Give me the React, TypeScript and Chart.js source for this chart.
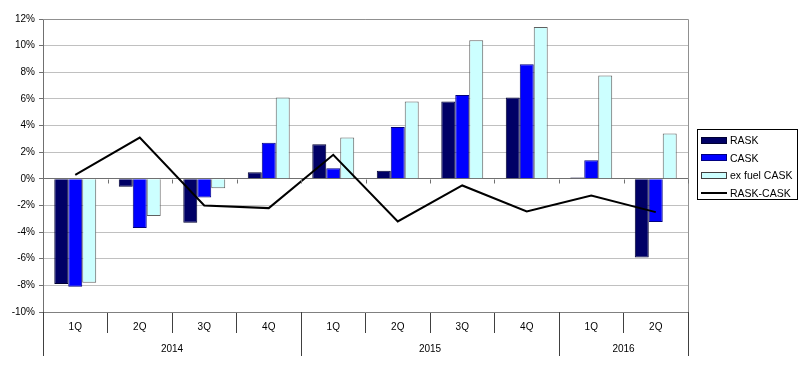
import React, { useEffect, useRef } from "react";
import { Chart, registerables } from "chart.js";

Chart.register(...registerables);

const quarters = ["1Q", "2Q", "3Q", "4Q", "1Q", "2Q", "3Q", "4Q", "1Q", "2Q"];
const years = ["2014", "2015", "2016"];
const yearSpans = [4, 4, 2];
const rask = [-7.9, -0.6, -3.3, 0.5, 2.6, 0.6, 5.8, 6.1, 0.1, -5.9];
const cask = [-8.1, -3.7, -1.4, 2.7, 0.8, 3.9, 6.3, 8.6, 1.4, -3.25];
const exFuelCask = [-7.8, -2.8, -0.7, 6.1, 3.1, 5.8, 10.4, 11.4, 7.75, 3.4];
const raskMinusCask = [0.3, 3.1, -2.0, -2.2, 1.8, -3.2, -0.5, -2.45, -1.25, -2.5];

const FONT = "'Liberation Sans', Arial, sans-serif";

const frame = {
  id: "frame",
  afterDraw(chart: any) {
    const { ctx, chartArea, scales } = chart;
    const x = scales.x;
    const y = scales.y;
    ctx.save();
    ctx.strokeStyle = "#909090";
    ctx.lineWidth = 1;
    ctx.beginPath();
    ctx.moveTo(chartArea.left, Math.round(chartArea.top) + 0.5);
    ctx.lineTo(Math.round(chartArea.right) + 0.5, Math.round(chartArea.top) + 0.5);
    ctx.lineTo(Math.round(chartArea.right) + 0.5, chartArea.bottom);
    ctx.stroke();
    ctx.strokeStyle = "#808080";
    ctx.beginPath();
    ctx.moveTo(chartArea.left, Math.round(chartArea.bottom) + 0.5);
    ctx.lineTo(chartArea.right, Math.round(chartArea.bottom) + 0.5);
    ctx.stroke();
    const y0 = Math.round(y.getPixelForValue(0)) + 0.5;
    ctx.strokeStyle = "#707070";
    ctx.beginPath();
    for (let i = 0; i <= quarters.length; i++) {
      const px = Math.round(x.getPixelForValue(i - 0.5)) + 0.5;
      ctx.moveTo(px, y0);
      ctx.lineTo(px, y0 + 4);
    }
    ctx.stroke();
    ctx.strokeStyle = "#404040";
    ctx.fillStyle = "#000";
    ctx.font = "10px " + FONT;
    ctx.textAlign = "center";
    ctx.textBaseline = "middle";
    let start = 0;
    const bottom = chartArea.bottom;
    ctx.beginPath();
    const px0 = Math.round(x.getPixelForValue(-0.5)) + 0.5;
    ctx.moveTo(px0, bottom);
    ctx.lineTo(px0, bottom + 44);
    years.forEach((yr, i) => {
      const end = start + yearSpans[i];
      const a = x.getPixelForValue(start - 0.5);
      const b = x.getPixelForValue(end - 0.5);
      const pb = Math.round(b) + 0.5;
      ctx.moveTo(pb, bottom);
      ctx.lineTo(pb, bottom + 44);
      ctx.fillText(yr, (a + b) / 2, bottom + 37);
      start = end;
    });
    ctx.stroke();
    ctx.restore();
  },
};

export default function App() {
  const ref = useRef<HTMLCanvasElement>(null);
  useEffect(() => {
    document.body.style.margin = "0";
    const chart = new Chart(ref.current as HTMLCanvasElement, {
      type: "bar",
      data: {
        labels: quarters,
        datasets: [
          {
            type: "line",
            label: "RASK-CASK",
            data: raskMinusCask,
            borderColor: "#000",
            borderWidth: 2,
            pointRadius: 0,
            tension: 0,
            order: 0,
          } as any,
          {
            label: "RASK",
            data: rask,
            backgroundColor: "#000066",
            borderColor: "#000033",
            borderWidth: 1,
            order: 1,
          },
          {
            label: "CASK",
            data: cask,
            backgroundColor: "#0000ff",
            borderColor: "#000080",
            borderWidth: 1,
            order: 1,
          },
          {
            label: "ex fuel CASK",
            data: exFuelCask,
            backgroundColor: "#ccffff",
            borderColor: "#606060",
            borderWidth: 1,
            order: 1,
          },
        ],
      },
      options: {
        animation: false,
        responsive: false,
        maintainAspectRatio: false,
        layout: { padding: { left: 0, right: 112, top: 19, bottom: 0 } },
        datasets: { bar: { barPercentage: 1, categoryPercentage: 0.65 } },
        plugins: { legend: { display: false }, tooltip: { enabled: false } },
        scales: {
          x: {
            grid: {
              offset: true,
              drawOnChartArea: false,
              drawTicks: true,
              tickLength: 21,
              color: "#404040",
            },
            border: { display: false },
            ticks: {
              padding: -12,
              color: "#000",
              font: { size: 10, family: FONT },
            },
            afterFit: (s: any) => {
              s.height = 57;
            },
          },
          y: {
            min: -10,
            max: 12,
            grid: {
              color: (c: any) => (c.tick && c.tick.value === 0 ? "#707070" : "#c0c0c0"),
              tickLength: 4,
              tickColor: "#707070",
            },
            border: { display: true, color: "#707070" },
            ticks: {
              stepSize: 2,
              padding: 4,
              color: "#000",
              font: { size: 10, family: FONT },
              callback: (v: any) => v + "%",
            },
            afterFit: (s: any) => {
              s.width = 43;
            },
          },
        },
      },
      plugins: [frame],
    });
    return () => chart.destroy();
  }, []);

  const legendItems = [
    { label: "RASK", type: "bar", color: "#000066", border: "#000033" },
    { label: "CASK", type: "bar", color: "#0000ff", border: "#000080" },
    { label: "ex fuel CASK", type: "bar", color: "#ccffff", border: "#404040" },
    { label: "RASK-CASK", type: "line", color: "#000", border: "#000" },
  ];

  return (
    <div style={{ position: "relative", width: 800, height: 369, background: "#fff" }}>
      <canvas ref={ref} width={800} height={369} style={{ display: "block" }} />
      <div
        style={{
          position: "absolute",
          left: 697,
          top: 129,
          width: 99,
          height: 69,
          border: "1px solid #000",
          boxSizing: "content-box",
          fontFamily: FONT,
          fontSize: 10.5,
          color: "#000",
        }}
      >
        {legendItems.map((it, i) => (
          <div
            key={i}
            style={{
              position: "absolute",
              left: 3,
              top: 3 + i * 17.5,
              height: 14,
              display: "flex",
              alignItems: "center",
              whiteSpace: "nowrap",
            }}
          >
            {it.type === "bar" ? (
              <div
                style={{
                  width: 24,
                  height: 5,
                  background: it.color,
                  border: "1px solid " + it.border,
                  marginRight: 3,
                }}
              />
            ) : (
              <div style={{ width: 26, height: 2, background: "#000", marginRight: 3 }} />
            )}
            <span>{it.label}</span>
          </div>
        ))}
      </div>
    </div>
  );
}
